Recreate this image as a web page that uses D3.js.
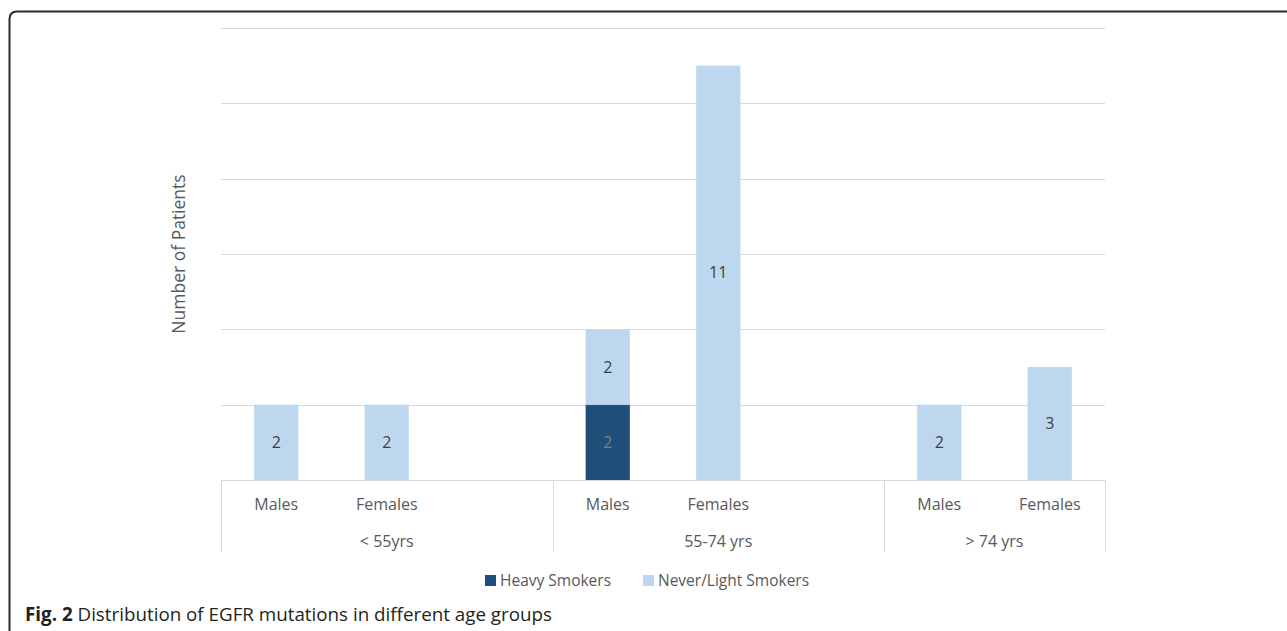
<!DOCTYPE html>
<html>
<head>
<meta charset="utf-8">
<script src="https://cdn.jsdelivr.net/npm/d3@7/dist/d3.min.js"></script>
<style>
  body { margin: 0; background: #fff; }
  text { font-family: "Open Sans", sans-serif; }
</style>
</head>
<body>
<script>
// slots along the x axis (Excel leaves an empty slot between age groups)
var sexLabels = ["Males", "Females", "", "Males", "Females", "", "Males", "Females"];
var ageOfSlot = ["< 55yrs", "< 55yrs", "< 55yrs", "55-74 yrs", "55-74 yrs", "55-74 yrs", "> 74 yrs", "> 74 yrs"];
var ageGroups = ["< 55yrs", "55-74 yrs", "> 74 yrs"];
var heavySmokers = [0, 0, null, 2, 0, null, 0, 0];
var neverLightSmokers = [2, 2, null, 2, 11, null, 2, 3];
var seriesNames = ["Heavy Smokers", "Never/Light Smokers"];
var yTicks = [0, 2, 4, 6, 8, 10, 12];

var width = 1287, height = 631;
var colors = ["#1f4e79", "#bdd7ee"];
var labelColors = ["#7f7f7f", "#404040"];

var svg = d3.select("body").append("svg")
    .attr("width", width)
    .attr("height", height);

// frame with rounded top-left corner
svg.append("path")
    .attr("d", "M9.5,631 L9.5,19 Q9.5,11.5 17,11.5 L1287,11.5")
    .attr("fill", "none")
    .attr("stroke", "#2b2b2b")
    .attr("stroke-width", 2);

var x = d3.scaleBand()
    .domain(d3.range(sexLabels.length))
    .range([221, 1105])
    .paddingInner(0.6)
    .paddingOuter(0.3);

var y = d3.scaleLinear()
    .domain([0, 12])
    .range([480, 28]);

// gridlines
svg.append("g")
    .selectAll("line")
    .data(yTicks)
    .enter().append("line")
    .attr("x1", 221).attr("x2", 1105)
    .attr("y1", function(d) { return Math.round(y(d)) + 0.5; })
    .attr("y2", function(d) { return Math.round(y(d)) + 0.5; })
    .attr("stroke", "#d9d9d9")
    .attr("stroke-width", 1);

// stacked bars
var rows = sexLabels.map(function(s, i) {
    return { i: i, heavy: heavySmokers[i], never: neverLightSmokers[i] };
}).filter(function(d) { return d.heavy !== null; });

var stack = d3.stack().keys(["heavy", "never"]);
var layers = stack(rows);

layers.forEach(function(layer, k) {
    var g = svg.append("g");
    g.selectAll("rect")
        .data(layer.filter(function(d) { return d[1] > d[0]; }))
        .enter().append("rect")
        .attr("x", function(d) { return x(d.data.i); })
        .attr("width", x.bandwidth())
        .attr("y", function(d) { return y(d[1]); })
        .attr("height", function(d) { return y(d[0]) - y(d[1]); })
        .attr("fill", colors[k]);
    g.selectAll("text")
        .data(layer.filter(function(d) { return d[1] > d[0]; }))
        .enter().append("text")
        .attr("x", function(d) { return x(d.data.i) + x.bandwidth() / 2; })
        .attr("y", function(d) { return (y(d[0]) + y(d[1])) / 2; })
        .attr("dy", "0.35em")
        .attr("text-anchor", "middle")
        .attr("font-size", 16)
        .attr("fill", labelColors[k])
        .text(function(d) { return d[1] - d[0]; });
});

// category axis: sex labels and age group labels
svg.append("g")
    .selectAll("text")
    .data(sexLabels.map(function(s, i) { return { s: s, i: i }; }).filter(function(d) { return d.s; }))
    .enter().append("text")
    .attr("x", function(d) { return x(d.i) + x.bandwidth() / 2; })
    .attr("y", 510)
    .attr("text-anchor", "middle")
    .attr("font-size", 16)
    .attr("fill", "#595959")
    .text(function(d) { return d.s; });

var groupSpans = ageGroups.map(function(a) {
    var idx = d3.range(ageOfSlot.length).filter(function(i) { return ageOfSlot[i] === a; });
    var half = (x.step() - x.bandwidth()) / 2;
    return {
        name: a,
        x0: x(idx[0]) - half,
        x1: x(idx[idx.length - 1]) + x.bandwidth() + half
    };
});

svg.append("g")
    .selectAll("text")
    .data(groupSpans)
    .enter().append("text")
    .attr("x", function(d) { return (d.x0 + d.x1) / 2; })
    .attr("y", 547)
    .attr("text-anchor", "middle")
    .attr("font-size", 16)
    .attr("fill", "#595959")
    .text(function(d) { return d.name; });

var seps = [groupSpans[0].x0].concat(groupSpans.map(function(d) { return d.x1; }));
svg.append("g")
    .selectAll("line")
    .data(seps)
    .enter().append("line")
    .attr("x1", function(d) { return Math.round(d) + 0.5; })
    .attr("x2", function(d) { return Math.round(d) + 0.5; })
    .attr("y1", y(0))
    .attr("y2", 552)
    .attr("stroke", "#d9d9d9");

// y title
svg.append("text")
    .attr("transform", "translate(185," + y(6) + ") rotate(-90)")
    .attr("text-anchor", "middle")
    .attr("font-size", 17.5)
    .attr("fill", "#595959")
    .text("Number of Patients");

// legend
var legendX = [485, 643];
var lg = svg.append("g").selectAll("g")
    .data(seriesNames)
    .enter().append("g")
    .attr("transform", function(d, i) { return "translate(" + legendX[i] + ",575)"; });
lg.append("rect")
    .attr("width", 11).attr("height", 11)
    .attr("fill", function(d, i) { return colors[i]; });
lg.append("text")
    .attr("x", 15).attr("y", 11)
    .attr("font-size", 15.5)
    .attr("fill", "#595959")
    .text(function(d) { return d; });

// caption
var cap = svg.append("text")
    .attr("x", 25)
    .attr("y", 621)
    .attr("font-size", 18.8)
    .attr("fill", "#231f20");
cap.append("tspan").attr("font-weight", "bold").text("Fig. 2");
cap.append("tspan").text(" Distribution of EGFR mutations in different age groups");
</script>
</body>
</html>
